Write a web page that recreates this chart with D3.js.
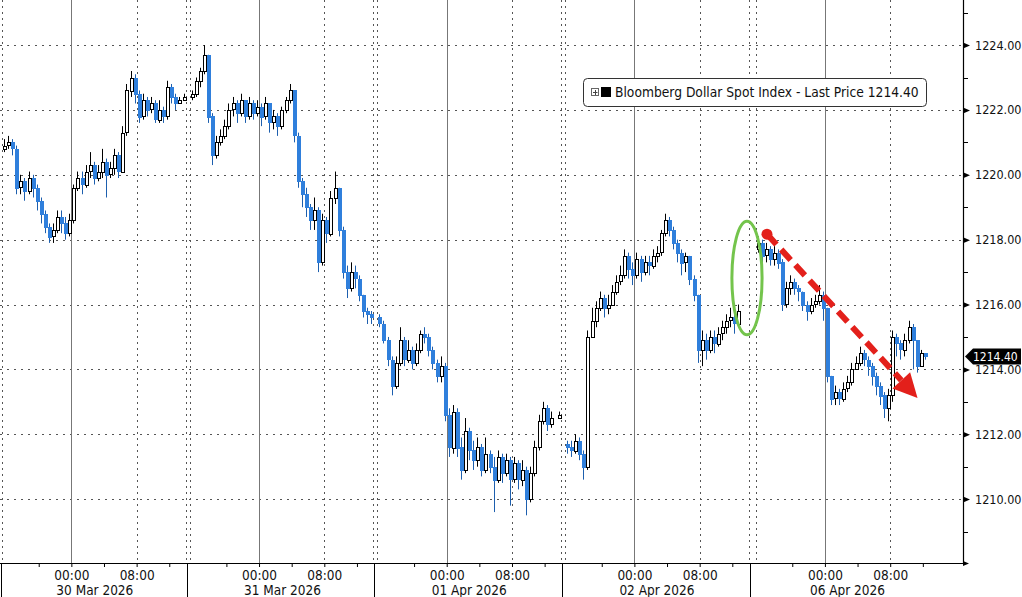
<!DOCTYPE html>
<html>
<head>
<meta charset="utf-8">
<script src="https://cdn.jsdelivr.net/npm/d3@7"></script>
<style>
  html, body { margin: 0; padding: 0; background: #fff; }
  svg { display: block; font-family: "DejaVu Sans Condensed", "DejaVu Sans", sans-serif; font-stretch: condensed; }
</style>
</head>
<body>
<svg id="chart" width="1022" height="597"></svg>
<script>
// ---------------- DATA ----------------
const days = ["30 Mar 2026", "31 Mar 2026", "01 Apr 2026", "02 Apr 2026", "06 Apr 2026"];
// slot (30-min bar index) at which each trading session starts (15:30 previous day)
const dayStartSlot = [0, 46, 92, 138, 184.7];
const firstOpen = [1220.8, 1222.4, 1215.6, 1211.7, 1217.7];

const close0 = [1220.9,1221.0,1220.8,1219.6,1219.8,1219.5,1219.9,1219.6,1219.2,1218.8,1218.4,1218.1,1218.3,1218.7,1218.5,1218.2,1218.6,1219.6,1219.9,1219.7,1220.1,1220.3,1219.9,1220.1,1220.4,1220.0,1220.2,1220.6,1220.1,1221.3,1222.6,1223.0,1222.5,1221.8,1222.3,1222.0,1222.2,1221.7,1222.0,1221.8,1222.7,1222.4,1222.2,1222.3,1222.4];
const high0  = [1221.1,1221.2,1221.1,1220.9,1220.0,1219.9,1220.1,1220.0,1219.7,1219.3,1218.9,1218.5,1218.5,1218.9,1218.9,1218.7,1218.8,1219.7,1220.1,1220.1,1220.3,1220.7,1220.4,1220.3,1220.8,1220.5,1220.4,1220.8,1220.7,1221.5,1222.8,1223.2,1223.1,1222.6,1222.5,1222.4,1222.4,1222.3,1222.3,1222.1,1222.9,1222.8,1222.5,1222.4,1222.5];
const low0   = [1220.7,1220.8,1220.6,1219.4,1219.4,1219.2,1219.4,1219.3,1218.9,1218.5,1218.2,1217.9,1217.9,1218.2,1218.2,1218.0,1218.1,1218.5,1219.5,1219.4,1219.6,1219.9,1219.7,1219.8,1219.9,1219.3,1219.9,1220.0,1219.9,1220.1,1221.2,1222.4,1222.2,1221.6,1221.7,1221.8,1221.9,1221.6,1221.6,1221.6,1221.7,1222.2,1222.0,1222.2,1222.3];

const close1 = [1222.5,1222.9,1223.2,1223.7,1221.8,1220.6,1221.0,1221.2,1221.5,1222.0,1222.2,1221.9,1222.3,1221.8,1222.2,1221.9,1222.1,1221.8,1222.2,1221.6,1221.8,1221.5,1222.0,1222.3,1222.6,1221.2,1219.8,1219.4,1219.0,1218.6,1218.9,1217.3,1218.6,1218.2,1219.3,1219.6,1218.3,1217.0,1216.5,1217.0,1216.8,1216.3,1215.8,1215.7,1215.6];
const high1  = [1222.6,1223.0,1223.3,1224.0,1223.7,1221.9,1221.2,1221.4,1221.7,1222.2,1222.4,1222.3,1222.5,1222.3,1222.4,1222.3,1222.3,1222.2,1222.4,1222.2,1222.0,1221.9,1222.1,1222.4,1222.8,1222.6,1221.3,1219.9,1219.6,1219.1,1219.3,1219.0,1218.8,1218.7,1219.5,1220.1,1219.6,1218.4,1217.2,1217.3,1217.2,1216.9,1216.3,1215.9,1215.8];
const low1   = [1222.3,1222.4,1222.7,1223.1,1221.6,1220.3,1220.5,1220.9,1221.1,1221.4,1221.8,1221.6,1221.8,1221.6,1221.7,1221.7,1221.8,1221.5,1221.7,1221.3,1221.4,1221.2,1221.4,1221.9,1222.2,1221.0,1219.6,1219.0,1218.7,1218.3,1218.3,1217.0,1217.2,1217.9,1218.1,1219.1,1218.1,1216.8,1216.2,1216.4,1216.5,1216.1,1215.6,1215.4,1215.4];

const close2 = [1215.4,1214.9,1214.3,1213.5,1214.2,1214.9,1214.3,1214.6,1214.2,1214.6,1215.1,1215.0,1214.6,1214.2,1213.8,1214.1,1212.6,1211.6,1212.7,1211.6,1210.9,1212.1,1211.5,1211.2,1211.6,1210.9,1211.4,1211.0,1210.6,1211.3,1210.8,1211.2,1210.6,1211.1,1210.6,1210.9,1210.0,1210.8,1211.6,1212.4,1212.8,1212.3,1212.5,null,1212.6];
const high2  = [1215.7,1215.5,1215.0,1214.4,1214.4,1215.3,1215.0,1214.9,1214.7,1214.8,1215.2,1215.3,1215.1,1214.7,1214.3,1214.4,1214.2,1212.8,1212.9,1212.8,1211.9,1212.5,1212.2,1211.8,1211.9,1211.7,1211.9,1211.5,1211.3,1211.5,1211.4,1211.4,1211.3,1211.3,1211.2,1211.2,1211.0,1211.0,1211.8,1212.6,1213.0,1212.9,1212.7,null,1212.7];
const low2   = [1215.3,1214.8,1214.1,1213.2,1213.4,1214.1,1214.1,1214.2,1214.0,1214.1,1214.5,1214.8,1214.4,1214.0,1213.6,1213.6,1212.4,1211.3,1211.4,1211.3,1210.6,1210.8,1211.2,1210.9,1211.0,1210.7,1210.8,1210.8,1209.6,1210.5,1210.5,1210.7,1209.8,1210.5,1210.3,1210.4,1209.5,1209.9,1210.7,1211.5,1212.3,1212.1,1212.2,null,1212.5];

const close3 = [1211.6,1211.5,1211.8,1211.4,1211.0,1215.0,1215.5,1215.9,1216.2,1215.9,1216.0,1216.4,1216.7,1216.9,1217.5,1217.1,1216.9,1217.4,1217.0,1217.3,1217.2,1217.5,1217.6,1218.2,1218.6,1218.3,1217.9,1217.6,1217.3,1217.5,1216.8,1216.3,1214.6,1214.9,1214.6,1215.0,1214.8,1215.1,1215.3,1215.5,1215.6,1215.4,1215.8,null,null];
const high3  = [1211.8,1211.8,1212.0,1211.9,1211.5,1215.2,1215.9,1216.1,1216.4,1216.3,1216.3,1216.6,1216.9,1217.2,1217.7,1217.6,1217.3,1217.6,1217.5,1217.5,1217.5,1217.7,1217.8,1218.3,1218.8,1218.7,1218.4,1218.0,1217.7,1217.6,1217.5,1216.9,1216.3,1215.2,1215.1,1215.2,1215.2,1215.3,1215.5,1215.7,1215.9,1215.8,1216.0,null,null];
const low3   = [1211.4,1211.3,1211.4,1211.2,1210.6,1210.9,1215.0,1215.3,1215.8,1215.6,1215.7,1216.0,1216.3,1216.6,1216.8,1216.8,1216.6,1216.8,1216.7,1216.9,1216.9,1217.1,1217.3,1217.5,1218.1,1218.1,1217.7,1217.3,1216.9,1217.0,1216.6,1216.1,1214.2,1214.1,1214.3,1214.5,1214.5,1214.7,1214.9,1215.1,1215.3,1215.1,1215.3,null,null];

const close4 = [1217.9,1217.5,1217.7,1217.4,1217.6,1217.3,1216.0,1216.5,1216.7,1216.5,1216.4,1216.0,1215.8,1216.0,1216.1,1216.3,1215.9,1213.8,1213.1,1213.3,1213.1,1213.4,1213.6,1214.0,1214.2,1214.5,1214.3,1214.1,1213.8,1213.5,1213.2,1212.8,1213.2,1215.0,1214.8,1214.6,1214.9,1215.3,1214.9,1214.1,1214.5,1214.4];
const high4  = [1218.1,1218.0,1217.9,1217.8,1217.8,1217.7,1217.4,1216.7,1216.9,1216.8,1216.6,1216.4,1216.1,1216.2,1216.3,1216.6,1216.4,1215.9,1213.8,1213.5,1213.4,1213.6,1213.8,1214.2,1214.4,1214.7,1214.6,1214.4,1214.2,1213.9,1213.6,1213.3,1213.4,1215.2,1215.1,1214.9,1215.1,1215.5,1215.4,1214.9,1214.6,1214.5];
const low4   = [1217.6,1217.1,1217.3,1217.2,1217.2,1217.1,1215.8,1215.9,1216.3,1216.3,1216.1,1215.8,1215.5,1215.7,1215.9,1216.0,1215.5,1213.6,1212.9,1212.9,1212.9,1213.0,1213.3,1213.5,1214.0,1214.1,1214.1,1213.8,1213.5,1213.2,1212.9,1212.5,1212.4,1213.0,1214.4,1214.3,1214.4,1214.8,1214.0,1213.9,1214.2,1214.3];

const closes = [close0, close1, close2, close3, close4];
const highs  = [high0, high1, high2, high3, high4];
const lows   = [low0, low1, low2, low3, low4];

const yTickValues = [1210, 1212, 1214, 1216, 1218, 1220, 1222, 1224];
const yMinorValues = [1209, 1211, 1213, 1215, 1217, 1219, 1221, 1223, 1225];
// hour ticks inside a session, as 30-min offsets from session start (15:30)
const hourTickOffsets = [9, 17, 25, 33, 41];          // 20:00, 00:00, 04:00, 08:00, 12:00
const hourLabels = {17: "00:00", 33: "08:00"};
const sessionLength = 45;
const lastPrice = 1214.40;
const legendText = "Bloomberg Dollar Spot Index - Last Price 1214.40";

// annotations in data space (slot, price)
const ellipseAnno = {slot: 182.6, price: 1216.82, slotR: 3.7, priceR: 1.75};
const arrowAnno = {from: [187.5, 1218.17], to: [224.4, 1213.12]};

// ---------------- BUILD ----------------
const bars = [];
closes.forEach((cl, d) => {
  let prev = firstOpen[d];
  cl.forEach((c, k) => {
    if (c === null) return;
    bars.push({slot: dayStartSlot[d] + k, open: prev, close: c, high: highs[d][k], low: lows[d][k]});
    prev = c;
  });
});

const FONT = "\"DejaVu Sans Condensed\", \"DejaVu Sans\", sans-serif";
const svg = d3.select("#chart");
const W = 1022, H = 597;
const plotR = 963, plotB = 563;

const x = d3.scaleLinear().domain([-0.49, 235.3]).range([0, 962]);
const y = d3.scaleLinear().domain([1208.03, 1225.39]).range([plotB, 0]);

// gridlines
const grid = svg.append("g");
grid.selectAll("line.hg").data(yTickValues).join("line")
  .attr("x1", 0).attr("x2", plotR).attr("y1", d => Math.round(y(d)) + 0.5).attr("y2", d => Math.round(y(d)) + 0.5)
  .attr("stroke", "#555").attr("stroke-width", 1).attr("stroke-dasharray", "2,5");

dayStartSlot.forEach((s, d) => {
  const xm = Math.round(x(s + 17)) + 0.5;
  grid.append("line").attr("x1", xm).attr("x2", xm).attr("y1", 0).attr("y2", plotB)
    .attr("stroke", "#777").attr("stroke-width", 1);
  const x8 = Math.round(x(s + 33)) + 0.5;
  grid.append("line").attr("x1", x8).attr("x2", x8).attr("y1", 0).attr("y2", plotB)
    .attr("stroke", "#555").attr("stroke-dasharray", "2,4");
  [s, s + sessionLength].forEach(b => {
    if (d === days.length - 1 && b !== s) return;
    const xb = Math.round(x(b)) + 0.5;
    grid.append("line").attr("x1", xb).attr("x2", xb).attr("y1", 0).attr("y2", plotB)
      .attr("stroke", "#555").attr("stroke-dasharray", "2,4");
  });
});

// candles
const up = d => d.close >= d.open;
const blue = "#2f7fdc";
const candles = svg.append("g");
const cx = d => Math.round(x(d.slot + 0.5));
candles.selectAll("line").data(bars).join("line")
  .attr("x1", d => cx(d) + 0.5).attr("x2", d => cx(d) + 0.5)
  .attr("y1", d => y(d.high)).attr("y2", d => y(d.low))
  .attr("stroke", d => up(d) ? "#000" : "#1d5fae").attr("stroke-width", 1);
candles.selectAll("rect").data(bars).join("rect")
  .attr("x", d => cx(d) - 1 + 0.5)
  .attr("width", 3)
  .attr("y", d => Math.round(y(Math.max(d.open, d.close))) + 0.5)
  .attr("height", d => Math.max(1, Math.round(Math.abs(y(d.open) - y(d.close)))))
  .attr("fill", d => up(d) ? "#fff" : blue)
  .attr("stroke", d => up(d) ? "#000" : blue)
  .attr("stroke-width", 1);

// y axis
const yAxis = d3.axisRight(y).tickValues(yTickValues).tickFormat(d3.format(".2f")).tickSize(0).tickPadding(12);
const gy = svg.append("g").attr("transform", `translate(${plotR},0)`).call(yAxis);
gy.select(".domain").remove();
gy.selectAll("text").attr("font-size", 12.5).attr("fill", "#111").attr("font-family", FONT);
gy.selectAll(".tick").append("path").attr("d", "M0,-3L7,0L0,3Z").attr("fill", "#000");
svg.append("g").selectAll("line").data(yMinorValues).join("line")
  .attr("x1", plotR).attr("x2", plotR + 5).attr("y1", d => Math.round(y(d)) + 0.5).attr("y2", d => Math.round(y(d)) + 0.5)
  .attr("stroke", "#000");
svg.append("line").attr("x1", plotR + 0.5).attr("x2", plotR + 0.5).attr("y1", 0).attr("y2", plotB + 1)
  .attr("stroke", "#000").attr("stroke-width", 1.2);

// x axis
const xTickSlots = [];
dayStartSlot.forEach(s => hourTickOffsets.forEach(o => xTickSlots.push({slot: s + o, off: o})));
const xAxis = d3.axisBottom(x).tickValues(xTickSlots.map(t => t.slot)).tickSize(4)
  .tickFormat((v, i) => hourLabels[xTickSlots[i].off] || "");
const gx = svg.append("g").attr("transform", `translate(0,${plotB})`).call(xAxis);
gx.select(".domain").remove();
gx.selectAll("line").attr("stroke", "#000");
gx.selectAll("text").attr("font-size", 13.5).attr("fill", "#111").attr("y", 17).attr("dy", 0)
  .attr("font-family", FONT);
svg.append("line").attr("x1", 0).attr("x2", plotR + 4).attr("y1", plotB + 0.5).attr("y2", plotB + 0.5)
  .attr("stroke", "#000").attr("stroke-width", 1.2);
svg.append("path").attr("d", `M${plotR},${plotB - 2}L${plotR + 6},${plotB + 0.5}L${plotR},${plotB + 3}Z`).attr("fill", "#000");

// session separators in axis area
const seps = [x(0) - 0.5];
for (let d = 1; d < days.length; d++) seps.push(x(dayStartSlot[d - 1] + sessionLength) + 1);
svg.append("g").selectAll("line").data(seps).join("line")
  .attr("x1", d => Math.round(d) + 0.5).attr("x2", d => Math.round(d) + 0.5)
  .attr("y1", plotB).attr("y2", H).attr("stroke", "#000");

// date labels
svg.append("g").selectAll("text").data(days).join("text")
  .attr("x", (d, i) => x(dayStartSlot[i] + 17) - 15)
  .attr("y", 595)
  .attr("font-size", 13.5).attr("fill", "#111").attr("font-family", FONT)
  .text(d => d);

// last price tag
const yl = y(lastPrice);
svg.append("path")
  .attr("d", `M${plotR + 2},${yl}L${plotR + 10},${yl - 8}L${W - 1},${yl - 8}L${W - 1},${yl + 8}L${plotR + 10},${yl + 8}Z`)
  .attr("fill", "#000");
svg.append("text").attr("x", plotR + 10).attr("y", yl + 4.5).attr("fill", "#fff").attr("font-family", FONT)
  .attr("font-size", 12).text(d3.format(".2f")(lastPrice));

// annotations
svg.append("ellipse")
  .attr("cx", x(ellipseAnno.slot)).attr("cy", y(ellipseAnno.price))
  .attr("rx", x(ellipseAnno.slot + ellipseAnno.slotR) - x(ellipseAnno.slot))
  .attr("ry", y(ellipseAnno.price - ellipseAnno.priceR) - y(ellipseAnno.price))
  .attr("fill", "none").attr("stroke", "#74c44c").attr("stroke-width", 3);

const ax0 = x(arrowAnno.from[0]), ay0 = y(arrowAnno.from[1]);
const ax1 = x(arrowAnno.to[0]), ay1 = y(arrowAnno.to[1]);
const ang = Math.atan2(ay1 - ay0, ax1 - ax0);
const headLen = 24, headHalf = 12;
const bx = ax1 - headLen * Math.cos(ang), by = ay1 - headLen * Math.sin(ang);
const red = "#e3201b";
svg.append("line").attr("x1", ax0).attr("y1", ay0).attr("x2", bx).attr("y2", by)
  .attr("stroke", red).attr("stroke-width", 6).attr("stroke-dasharray", "14,7");
svg.append("circle").attr("cx", ax0).attr("cy", ay0).attr("r", 5.5).attr("fill", red);
svg.append("path")
  .attr("d", `M${ax1},${ay1}L${bx + headHalf * Math.sin(ang)},${by - headHalf * Math.cos(ang)}L${bx - headHalf * Math.sin(ang)},${by + headHalf * Math.cos(ang)}Z`)
  .attr("fill", red);

// legend
const lg = svg.append("g").attr("transform", "translate(583,78)");
lg.append("rect").attr("x", 0.5).attr("y", 0.5).attr("width", 343).attr("height", 28).attr("rx", 4)
  .attr("fill", "#fff").attr("stroke", "#333").attr("stroke-width", 1);
lg.append("rect").attr("x", 8.5).attr("y", 10.5).attr("width", 7).attr("height", 7).attr("fill", "#fff").attr("stroke", "#666");
lg.append("path").attr("d", "M10,14.5H14.5M12.5,12V17").attr("stroke", "#444");
lg.append("rect").attr("x", 18).attr("y", 9).attr("width", 10).attr("height", 10).attr("fill", "#000");
lg.append("text").attr("x", 32).attr("y", 19).attr("font-size", 13.7).attr("fill", "#111").attr("font-family", FONT).text(legendText);
</script>
</body>
</html>
